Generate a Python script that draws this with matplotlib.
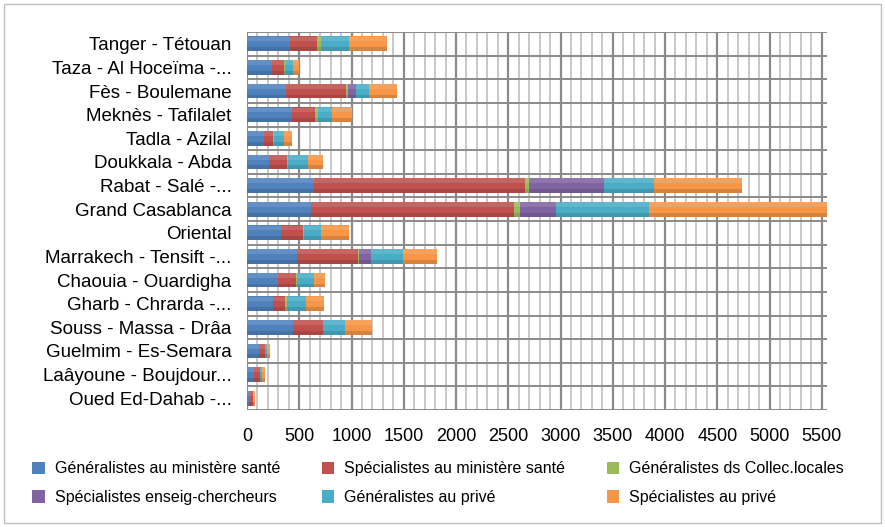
import matplotlib
matplotlib.use("Agg")
import matplotlib.pyplot as plt
from matplotlib.patches import Rectangle
import numpy as np

plt.rcParams['font.family'] = ['Liberation Sans Narrow', 'Liberation Sans', 'DejaVu Sans']

# ── données ─────────────────────────────────────────────
regions = [
    "Tanger - Tétouan", "Taza - Al Hoceïma -...", "Fès - Boulemane",
    "Meknès - Tafilalet", "Tadla - Azilal", "Doukkala - Abda",
    "Rabat - Salé -...", "Grand Casablanca", "Oriental",
    "Marrakech - Tensift -...", "Chaouia - Ouardigha", "Gharb - Chrarda -...",
    "Souss - Massa - Drâa", "Guelmim - Es-Semara", "Laâyoune - Boujdour...",
    "Oued Ed-Dahab -...",
]
series_names = [
    "Généralistes au ministère santé", "Spécialistes au ministère santé",
    "Généralistes ds Collec.locales", "Spécialistes enseig-chercheurs",
    "Généralistes au privé", "Spécialistes au privé",
]
gen_ministere  = [411, 236, 373, 431, 160, 214, 640, 612, 325, 478, 300, 246, 437, 112, 70, 32]
spec_ministere = [262, 121, 574, 220, 93, 166, 2020, 1943, 207, 581, 169, 121, 287, 61, 57, 22]
gen_collec     = [32, 10, 22, 25, 6, 10, 37, 56, 16, 16, 6, 16, 5, 2, 2, 1]
spec_enseig    = [0, 0, 73, 0, 0, 0, 723, 345, 0, 112, 0, 0, 0, 0, 0, 0]
gen_prive      = [271, 70, 128, 134, 93, 191, 471, 890, 160, 303, 163, 182, 204, 19, 13, 5]
spec_prive     = [360, 60, 270, 195, 80, 150, 850, 1700, 265, 330, 110, 170, 260, 25, 30, 15]
xticks = list(range(0, 5501, 500))

series = [gen_ministere, spec_ministere, gen_collec, spec_enseig, gen_prive, spec_prive]
colors = ["#4F81BD", "#C0504D", "#9BBB59", "#8064A2", "#4BACC6", "#F79646"]

# ── figure ─────────────────────────────────────────────
W, H = 885, 527
fig = plt.figure(figsize=(W / 100, H / 100), dpi=100)
fig.patch.set_facecolor("white")
fig.add_artist(Rectangle((4 / W, 4 / H), 877 / W, 519 / H, transform=fig.transFigure,
                         fill=False, edgecolor="#bfbfbf", linewidth=1))

ax = fig.add_axes([247 / W, (H - 410) / H, 580 / W, 378 / H])
ax.set_xlim(0, 5550)
ax.set_ylim(len(regions) - 0.5, -0.5)

# grille
for v in range(0, 5600, 100):
    major = v % 500 == 0
    ax.axvline(v, color="#8a8a8a" if major else "#c4c4c4",
               lw=1.6 if major else 1.3, zorder=0)
for i in range(len(regions) + 1):
    ax.axhline(i - 0.5, color="#8a8a8a", lw=1.4, zorder=0)

y = np.arange(len(regions))
left = np.zeros(len(regions))
handles = []
for vals, col, name in zip(series, colors, series_names):
    vals = np.array(vals, dtype=float)
    b = ax.barh(y, vals, left=left, height=0.62, color=col, edgecolor="none",
                label=name, zorder=3)
    # léger relief (haut clair, bas foncé)
    ax.barh(y - 0.2, vals, left=left, height=0.2, color="white", alpha=0.12,
            edgecolor="none", zorder=4)
    ax.barh(y + 0.23, vals, left=left, height=0.16, color="black", alpha=0.12,
            edgecolor="none", zorder=4)
    handles.append(b)
    left += vals

ax.set_yticks(y)
ax.set_yticklabels(regions, fontsize=13.5)
ax.set_xticks(xticks)
ax.set_xticklabels([str(t) for t in xticks], fontsize=13)
ax.tick_params(axis="y", length=0, pad=11)
ax.tick_params(axis="x", length=0, pad=13)
for s in ax.spines.values():
    s.set_visible(False)

order = [0, 3, 1, 4, 2, 5]
fig.legend([handles[i] for i in order], [series_names[i] for i in order],
           loc="upper left", bbox_to_anchor=(18 / W, (H - 447) / H), ncol=3,
           frameon=False, fontsize=11.5, handlelength=0.8, handleheight=0.8,
           columnspacing=2.6, labelspacing=0.85, handletextpad=0.6)

fig.savefig("out.png", dpi=100, facecolor="white")
